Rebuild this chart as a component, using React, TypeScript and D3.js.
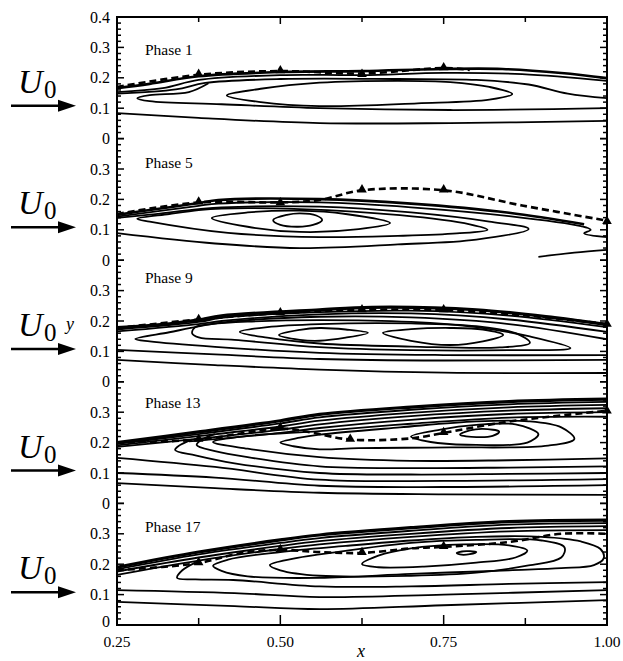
import React from "react";
import * as d3 from "d3";

// ---- data (x in [0.25, 1], y in [0, 0.4] per panel) ----
const phaseNames = ["Phase 1", "Phase 5", "Phase 9", "Phase 13", "Phase 17"];
const xTicks = [0.25, 0.375, 0.5, 0.625, 0.75, 0.875, 1.0];
const xTickLabels = [0.25, 0.5, 0.75, 1.0];
const yTickLabelsFirst = [0.4, 0.3, 0.2, 0.1, 0];
const yTickLabels = [0.3, 0.2, 0.1, 0];

const phase1Open = [
  [[0.25, 0.166], [0.3, 0.18], [0.375, 0.205], [0.5, 0.219], [0.625, 0.222], [0.75, 0.229], [0.84, 0.229], [0.93, 0.216], [1.0, 0.199]],
  [[0.25, 0.153], [0.32, 0.166], [0.375, 0.193], [0.5, 0.209], [0.625, 0.209], [0.75, 0.216], [0.87, 0.212], [1.0, 0.19]],
  [[0.25, 0.148], [0.34, 0.162], [0.385, 0.183], [0.5, 0.196], [0.68, 0.196], [0.8, 0.193], [0.88, 0.178], [0.94, 0.148], [1.0, 0.133]],
  [[0.39, 0.182], [0.36, 0.153], [0.3, 0.143], [0.281, 0.133], [0.3, 0.123], [0.41, 0.113], [0.56, 0.1], [0.76, 0.094], [1.0, 0.1]],
  [[0.25, 0.084], [0.375, 0.068], [0.56, 0.051], [0.76, 0.051], [1.0, 0.058]],
];
const phase1Closed = [
  [[0.418, 0.142], [0.47, 0.164], [0.56, 0.184], [0.68, 0.19], [0.76, 0.186], [0.82, 0.17], [0.855, 0.147], [0.82, 0.128], [0.71, 0.116], [0.56, 0.107], [0.47, 0.12]],
];
const phase1Dashed = [[0.25, 0.17], [0.375, 0.21], [0.5, 0.222], [0.625, 0.214], [0.75, 0.232], [0.79, 0.226]];
const phase1Triangles = [[0.375, 0.212], [0.5, 0.224], [0.625, 0.212], [0.75, 0.234]];

const phase5Open = [
  [[0.25, 0.149], [0.3, 0.165], [0.375, 0.188], [0.405, 0.198], [0.56, 0.201], [0.7, 0.186], [0.85, 0.156], [0.965, 0.118]],
  [[0.25, 0.143], [0.375, 0.179], [0.405, 0.186], [0.56, 0.19], [0.7, 0.174], [0.85, 0.145], [0.96, 0.112], [0.975, 0.1], [0.965, 0.088], [1.0, 0.076]],
  [[0.25, 0.139], [0.3, 0.15], [0.375, 0.168], [0.41, 0.174], [0.56, 0.176], [0.7, 0.157], [0.82, 0.127], [0.88, 0.103], [0.8, 0.068], [0.68, 0.052], [0.53, 0.04], [0.4, 0.055], [0.25, 0.089]],
  [[0.895, 0.011], [0.95, 0.025], [1.0, 0.034]],
];
const phase5Closed = [
  [[0.281, 0.136], [0.33, 0.152], [0.375, 0.165], [0.41, 0.17], [0.53, 0.168], [0.683, 0.148], [0.79, 0.118], [0.817, 0.1], [0.77, 0.088], [0.68, 0.08], [0.56, 0.076], [0.42, 0.09], [0.3, 0.127]],
  [[0.395, 0.139], [0.45, 0.157], [0.53, 0.163], [0.6, 0.152], [0.668, 0.122], [0.62, 0.102], [0.53, 0.093], [0.45, 0.11]],
  [[0.489, 0.132], [0.51, 0.149], [0.53, 0.154], [0.555, 0.147], [0.564, 0.132], [0.55, 0.116], [0.527, 0.11], [0.5, 0.116]],
];
const phase5Dashed = [[0.25, 0.152], [0.375, 0.19], [0.5, 0.19], [0.56, 0.198], [0.625, 0.23], [0.75, 0.23], [0.87, 0.18], [1.0, 0.13]];
const phase5Triangles = [[0.375, 0.192], [0.5, 0.19], [0.625, 0.232], [0.75, 0.232], [1.0, 0.128]];

const phase9Open = [
  [[0.25, 0.178], [0.33, 0.191], [0.375, 0.204], [0.41, 0.217], [0.56, 0.237], [0.64, 0.245], [0.8, 0.237], [0.92, 0.211], [1.0, 0.188]],
  [[0.25, 0.172], [0.375, 0.197], [0.41, 0.21], [0.56, 0.229], [0.7, 0.234], [0.85, 0.218], [1.0, 0.18]],
  [[0.25, 0.166], [0.375, 0.19], [0.41, 0.2], [0.56, 0.222], [0.7, 0.225], [0.85, 0.205], [1.0, 0.164]],
  [[1.0, 0.14], [0.85, 0.19], [0.7, 0.212], [0.56, 0.214], [0.41, 0.195], [0.375, 0.182], [0.33, 0.163], [0.278, 0.141], [0.3, 0.133], [0.4, 0.115], [0.56, 0.095], [0.75, 0.088], [1.0, 0.088]],
  [[0.25, 0.105], [0.4, 0.09], [0.56, 0.075], [0.75, 0.07], [1.0, 0.072]],
  [[0.25, 0.072], [0.4, 0.055], [0.56, 0.04], [0.75, 0.03], [1.0, 0.029]],
];
const phase9Closed = [
  [[0.395, 0.19], [0.37, 0.18], [0.365, 0.16], [0.375, 0.146], [0.43, 0.138], [0.56, 0.114], [0.7, 0.104], [0.85, 0.104], [0.944, 0.111], [0.88, 0.15], [0.8, 0.18], [0.7, 0.197], [0.56, 0.203], [0.45, 0.198]],
  [[0.438, 0.164], [0.48, 0.18], [0.56, 0.19], [0.7, 0.192], [0.8, 0.183], [0.86, 0.16], [0.882, 0.128], [0.836, 0.113], [0.7, 0.116], [0.56, 0.126], [0.48, 0.145]],
  [[0.498, 0.154], [0.53, 0.171], [0.56, 0.177], [0.6, 0.172], [0.634, 0.161], [0.6, 0.145], [0.56, 0.135], [0.53, 0.138]],
  [[0.657, 0.161], [0.7, 0.173], [0.76, 0.177], [0.81, 0.172], [0.841, 0.154], [0.81, 0.133], [0.76, 0.121], [0.7, 0.135]],
];
const phase9Dashed = [[0.25, 0.177], [0.375, 0.205], [0.5, 0.226], [0.625, 0.236], [0.75, 0.236], [0.875, 0.218], [1.0, 0.19]];
const phase9Triangles = [[0.375, 0.206], [0.5, 0.228], [0.625, 0.238], [0.75, 0.238], [1.0, 0.19]];

const phase13Open = [
  [[0.25, 0.2], [0.375, 0.235], [0.5, 0.272], [0.56, 0.293], [0.7, 0.317], [0.85, 0.335], [1.0, 0.343]],
  [[0.25, 0.196], [0.375, 0.228], [0.5, 0.263], [0.56, 0.283], [0.7, 0.308], [0.85, 0.326], [1.0, 0.334]],
  [[0.25, 0.191], [0.375, 0.221], [0.5, 0.253], [0.56, 0.272], [0.7, 0.298], [0.85, 0.316], [1.0, 0.324]],
  [[0.25, 0.186], [0.375, 0.213], [0.5, 0.242], [0.56, 0.26], [0.7, 0.287], [0.85, 0.305], [1.0, 0.313]],
  [[0.36, 0.204], [0.5, 0.232], [0.56, 0.248], [0.7, 0.275], [0.85, 0.294], [1.0, 0.3]],
  [[1.0, 0.285], [0.85, 0.282], [0.7, 0.262], [0.56, 0.238], [0.45, 0.222], [0.397, 0.202], [0.45, 0.18], [0.56, 0.152], [0.7, 0.14], [0.85, 0.142], [1.0, 0.148]],
  [[0.4, 0.228], [0.38, 0.21], [0.372, 0.192], [0.4, 0.172], [0.45, 0.152], [0.56, 0.122], [0.7, 0.116], [0.85, 0.118], [1.0, 0.122]],
  [[0.365, 0.21], [0.345, 0.19], [0.339, 0.176], [0.37, 0.158], [0.43, 0.132], [0.56, 0.1], [0.7, 0.095], [0.85, 0.097], [1.0, 0.1]],
  [[0.25, 0.15], [0.4, 0.12], [0.56, 0.078], [0.75, 0.074], [1.0, 0.08]],
  [[0.25, 0.1], [0.4, 0.085], [0.56, 0.058], [0.75, 0.054], [1.0, 0.06]],
  [[0.25, 0.067], [0.4, 0.05], [0.56, 0.035], [0.75, 0.03], [1.0, 0.028]],
];
const phase13Closed = [
  [[0.5, 0.2], [0.53, 0.216], [0.56, 0.226], [0.683, 0.25], [0.8, 0.27], [0.88, 0.27], [0.93, 0.25], [0.95, 0.212], [0.91, 0.19], [0.76, 0.184], [0.62, 0.182], [0.56, 0.178], [0.52, 0.188]],
  [[0.7, 0.22], [0.745, 0.243], [0.8, 0.258], [0.86, 0.26], [0.895, 0.228], [0.878, 0.2], [0.786, 0.193], [0.73, 0.202]],
  [[0.775, 0.226], [0.79, 0.24], [0.81, 0.245], [0.835, 0.236], [0.825, 0.222], [0.8, 0.218]],
];
const phase13Dashed = [[0.25, 0.2], [0.375, 0.21], [0.5, 0.246], [0.55, 0.232], [0.607, 0.21], [0.7, 0.214], [0.75, 0.232], [0.817, 0.258], [0.867, 0.274], [1.0, 0.305]];
const phase13Triangles = [[0.375, 0.212], [0.5, 0.25], [0.607, 0.212], [0.75, 0.234], [1.0, 0.305]];

const phase17Open = [
  [[0.25, 0.19], [0.375, 0.24], [0.5, 0.28], [0.56, 0.296], [0.7, 0.32], [0.85, 0.34], [1.0, 0.345]],
  [[0.25, 0.183], [0.375, 0.232], [0.5, 0.27], [0.56, 0.286], [0.7, 0.31], [0.85, 0.33], [1.0, 0.335]],
  [[0.25, 0.176], [0.375, 0.222], [0.5, 0.26], [0.56, 0.276], [0.7, 0.3], [0.85, 0.319], [1.0, 0.325]],
  [[0.25, 0.165], [0.375, 0.212], [0.5, 0.25], [0.56, 0.265], [0.7, 0.29], [0.85, 0.308], [1.0, 0.312]],
  [[0.37, 0.205], [0.35, 0.18], [0.342, 0.155], [0.37, 0.15], [0.428, 0.148], [0.56, 0.127], [0.7, 0.127], [0.85, 0.135], [1.0, 0.141]],
  [[0.25, 0.115], [0.43, 0.105], [0.56, 0.092], [0.75, 0.1], [1.0, 0.115]],
  [[0.25, 0.076], [0.43, 0.062], [0.56, 0.052], [0.75, 0.065], [1.0, 0.082]],
];
const phase17Closed = [
  [[0.397, 0.195], [0.42, 0.215], [0.5, 0.24], [0.6, 0.26], [0.7, 0.278], [0.8, 0.29], [0.9, 0.29], [0.96, 0.275], [0.99, 0.25], [0.995, 0.22], [0.98, 0.197], [0.93, 0.187], [0.85, 0.18], [0.7, 0.168], [0.56, 0.155], [0.45, 0.16], [0.41, 0.178]],
  [[0.484, 0.197], [0.52, 0.218], [0.56, 0.232], [0.7, 0.27], [0.8, 0.28], [0.9, 0.278], [0.935, 0.255], [0.93, 0.222], [0.88, 0.196], [0.8, 0.172], [0.7, 0.162], [0.56, 0.162], [0.5, 0.18]],
  [[0.625, 0.2], [0.65, 0.228], [0.7, 0.252], [0.78, 0.265], [0.85, 0.262], [0.878, 0.245], [0.86, 0.222], [0.8, 0.205], [0.72, 0.192], [0.65, 0.19]],
  [[0.77, 0.237], [0.785, 0.243], [0.8, 0.24], [0.79, 0.233], [0.775, 0.232]],
];
const phase17Dashed = [[0.25, 0.18], [0.375, 0.204], [0.44, 0.237], [0.5, 0.247], [0.56, 0.24], [0.625, 0.237], [0.7, 0.252], [0.75, 0.257], [0.85, 0.273], [0.93, 0.3], [1.0, 0.3]];
const phase17Triangles = [[0.375, 0.206], [0.5, 0.249], [0.625, 0.239], [0.75, 0.259]];

const phaseLabelY = [0.275, 0.303, 0.325, 0.314, 0.306];
const arrowY = 0.108;

const panels = [
  { open: phase1Open, closed: phase1Closed, dashed: phase1Dashed, tri: phase1Triangles },
  { open: phase5Open, closed: phase5Closed, dashed: phase5Dashed, tri: phase5Triangles },
  { open: phase9Open, closed: phase9Closed, dashed: phase9Dashed, tri: phase9Triangles },
  { open: phase13Open, closed: phase13Closed, dashed: phase13Dashed, tri: phase13Triangles },
  { open: phase17Open, closed: phase17Closed, dashed: phase17Dashed, tri: phase17Triangles },
];

const W = 623;
const H = 661;
const left = 117, right = 607, top = 17, bottom = 625;
const panelH = (bottom - top) / 5;
const font = "'Liberation Serif', 'Times New Roman', serif";

const x = d3.scaleLinear().domain([0.25, 1]).range([left, right]);
const yFor = (i) =>
  d3.scaleLinear().domain([0, 0.4]).range([top + (i + 1) * panelH, top + i * panelH]);

const yMinor = d3.range(0, 21).map((i) => i * 0.02);

export default function App() {
  const tri = d3.symbol(d3.symbolTriangle, 40)();
  return (
    <svg width={W} height={H} style={{ position: "absolute", left: 0, top: 0, background: "#fff" }}>
      <rect width={W} height={H} fill="#fff" />
      {panels.map((p, i) => {
        const y = yFor(i);
        const line = d3.line().x((d) => x(d[0])).y((d) => y(d[1])).curve(d3.curveCatmullRom.alpha(0.5));
        const loop = d3.line().x((d) => x(d[0])).y((d) => y(d[1])).curve(d3.curveCatmullRomClosed.alpha(0.5));
        const ay = y(arrowY);
        return (
          <g key={i}>
            {p.open.map((c, j) => (
              <path key={"o" + j} d={line(c)} fill="none" stroke="#000" strokeWidth={j === 0 ? (i >= 2 ? 3.2 : 2.6) : 1.8} />
            ))}
            {p.closed.map((c, j) => (
              <path key={"c" + j} d={loop(c)} fill="none" stroke="#000" strokeWidth={1.8} />
            ))}
            <path d={line(p.dashed)} fill="none" stroke="#000" strokeWidth={2.6} strokeDasharray="7,4" />
            {p.tri.map((t, j) => (
              <path key={"t" + j} d={tri} transform={`translate(${x(t[0])},${y(t[1])})`} fill="#000" />
            ))}
            <text x={145} y={y(phaseLabelY[i])} fontFamily={font} fontSize={15.5}>{phaseNames[i]}</text>
            {/* left and right ticks */}
            {yMinor.map((v, k) => {
              const len = k % 5 === 0 ? 7 : 4;
              return (
                <g key={"yt" + k}>
                  <line x1={left} x2={left + len} y1={y(v)} y2={y(v)} stroke="#000" strokeWidth={1.5} />
                  <line x1={right} x2={right - len} y1={y(v)} y2={y(v)} stroke="#000" strokeWidth={1.5} />
                </g>
              );
            })}
            {(i === 0 ? yTickLabelsFirst : yTickLabels).map((v) => (
              <text key={"yl" + v} x={110} y={y(v) - (i === 4 && v === 0 ? 4 : 0)} dy="0.35em" textAnchor="end" fontFamily={font} fontSize={16}>
                {v === 0 ? "0" : v.toFixed(1)}
              </text>
            ))}
            {/* U0 arrow */}
            <text x={18} y={ay - 13} fontFamily={font} fontStyle="italic" fontSize={34}>U</text>
            <text x={44} y={ay - 8} fontFamily={font} fontSize={25}>0</text>
            <line x1={11} x2={62} y1={ay} y2={ay} stroke="#000" strokeWidth={2.5} />
            <path d={`M58,${ay - 6}L76,${ay}L58,${ay + 6}Z`} fill="#000" />
          </g>
        );
      })}
      {/* frame */}
      <rect x={left} y={top} width={right - left} height={bottom - top} fill="none" stroke="#000" strokeWidth={2} />
      {xTicks.map((v, k) => {
        const major = k % 2 === 0;
        return (
          <g key={"xt" + v}>
            <line x1={x(v)} x2={x(v)} y1={top} y2={top + (major ? 7 : 5)} stroke="#000" strokeWidth={1.5} />
            <line x1={x(v)} x2={x(v)} y1={bottom} y2={bottom - (major ? 10 : 7)} stroke="#000" strokeWidth={1.5} />
          </g>
        );
      })}
      {xTickLabels.map((v) => (
        <text key={"xl" + v} x={x(v)} y={647} textAnchor="middle" fontFamily={font} fontSize={15.5}>
          {v.toFixed(2)}
        </text>
      ))}
      <text x={66} y={330} fontFamily={font} fontStyle="italic" fontSize={18}>y</text>
      <text x={357} y={657} fontFamily={font} fontStyle="italic" fontSize={18}>x</text>
    </svg>
  );
}
